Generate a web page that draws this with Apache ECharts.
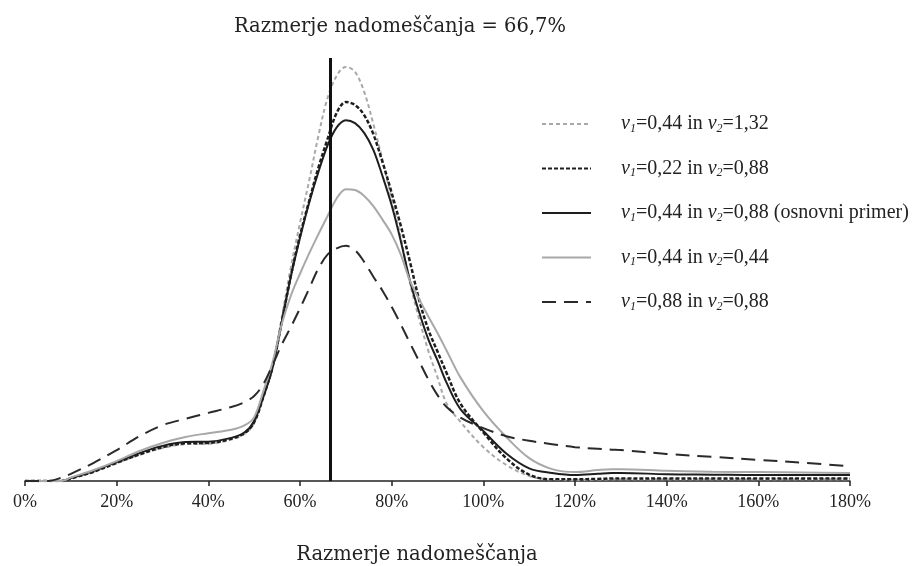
<!DOCTYPE html>
<html>
<head>
<meta charset="utf-8">
<script src="https://cdn.jsdelivr.net/npm/echarts@6/dist/echarts.min.js"></script>
<style>
  html, body { margin: 0; padding: 0; background: #fff; }
  #main { width: 915px; height: 566px; }
</style>
</head>
<body>
<div id="main"></div>
<script>
// x positions (razmerje nadomescanja, %)
var xs = [0, 5, 8, 10, 15, 20, 25, 30, 35, 40, 45, 48, 50, 52, 54, 56, 58, 60, 62, 64, 66, 68, 70, 72, 74, 76, 78, 80,
    82, 84, 86, 88, 90, 92, 95, 100, 105, 110, 115, 120, 125, 128, 130, 140, 150, 160, 170, 180];

// v1=0,44 in v2=1,32
var serA = [0, 0, 0, 0.6, 2.2, 4.2, 6.2, 7.8, 8.7, 8.8, 9.8, 11.2, 13.7, 19.9, 27.0, 38.5, 50.5, 61.0, 71.0, 81.5, 90.5, 95.8, 97.9, 96.7, 92.0, 84.4, 75.9, 66.7,
    57.4, 46.8, 38.3, 30.8, 24.5, 18.3, 14.0, 8.0, 3.8, 1.2, 0.3, 0.2, 0.3, 0.4, 0.4, 0.4, 0.4, 0.4, 0.4, 0.4];
// v1=0,22 in v2=0,88
var serB = [0, 0, 0, 0.6, 2.2, 4.3, 6.3, 8.0, 8.9, 9.0, 10.0, 11.4, 13.9, 19.9, 26.9, 37.5, 48.5, 58.0, 66.2, 74.0, 80.8, 87.0, 89.6, 88.9, 86.5, 82.0, 75.4, 68.1,
    60.3, 51.8, 42.8, 35.8, 30.6, 25.5, 18.3, 11.5, 5.4, 1.5, 0.4, 0.4, 0.5, 0.6, 0.6, 0.6, 0.6, 0.6, 0.6, 0.6];
// v1=0,44 in v2=0,88 (osnovni primer)
var serC = [0, 0, 0, 0.7, 2.4, 4.5, 6.6, 8.3, 9.2, 9.3, 10.2, 11.6, 14.2, 19.9, 26.7, 37.5, 48.3, 57.5, 65.8, 73.0, 79.3, 83.6, 85.3, 84.6, 82.3, 78.3, 72.1, 65.2,
    56.7, 47.3, 39.9, 33.5, 28.5, 23.2, 17.0, 11.8, 6.5, 3.0, 1.9, 1.4, 1.7, 1.9, 1.9, 1.6, 1.5, 1.4, 1.4, 1.4];
// v1=0,44 in v2=0,44
var serD = [0, 0, 0, 0.8, 2.6, 4.7, 7.1, 9.0, 10.4, 11.3, 12.1, 13.2, 15.1, 21.2, 28.0, 37.0, 43.8, 49.0, 53.8, 58.3, 62.6, 66.8, 69.0, 68.8, 67.4, 65.0, 61.8, 58.3,
    53.5, 47.3, 43.0, 38.9, 35.0, 30.8, 24.5, 16.5, 10.4, 5.4, 2.8, 2.1, 2.6, 2.8, 2.8, 2.4, 2.2, 2.1, 2.0, 1.9];
// v1=0,88 in v2=0,88
var serE = [0, 0, 0.8, 1.7, 4.3, 7.3, 10.6, 13.2, 14.7, 16.1, 17.5, 18.7, 20.1, 22.9, 27.4, 32.2, 36.4, 40.8, 45.5, 50.2, 53.5, 55.0, 55.6, 54.6, 51.8, 48.3, 45.0, 41.2,
    37.0, 32.6, 28.3, 24.0, 20.3, 17.5, 15.0, 12.5, 10.6, 9.5, 8.7, 8.0, 7.6, 7.4, 7.3, 6.4, 5.7, 5.0, 4.3, 3.5];

var names = ['v1=0,44 in v2=1,32', 'v1=0,22 in v2=0,88', 'v1=0,44 in v2=0,88 (osnovni primer)', 'v1=0,44 in v2=0,44', 'v1=0,88 in v2=0,88'];
var richNames = [
    '{i|v}{s|1}=0,44 in {i|v}{s|2}=1,32',
    '{i|v}{s|1}=0,22 in {i|v}{s|2}=0,88',
    '{i|v}{s|1}=0,44 in {i|v}{s|2}=0,88 (osnovni primer)',
    '{i|v}{s|1}=0,44 in {i|v}{s|2}=0,44',
    '{i|v}{s|1}=0,88 in {i|v}{s|2}=0,88'
];
var splitRatio = 66.7;

function pairs(ys) {
    var out = [];
    for (var i = 0; i < xs.length; i++) {
        out.push([xs[i], ys[i]]);
    }
    return out;
}

var serif = 'Liberation Serif';
var myChart = echarts.init(document.getElementById('main'));

var styles = [
    { color: '#a8a8a8', width: 2, type: [4, 3] },
    { color: '#1e1e1e', width: 2.5, type: [4, 2] },
    { color: '#1e1e1e', width: 2, type: 'solid' },
    { color: '#a8a8a8', width: 2, type: 'solid' },
    { color: '#2a2a2a', width: 2, type: [14, 8] }
];
var allData = [serA, serB, serC, serD, serE];

var series = [];
for (var k = 0; k < 5; k++) {
    series.push({
        name: names[k],
        type: 'line',
        data: pairs(allData[k]),
        smooth: 0.35,
        symbol: 'none',
        color: styles[k].color,
        lineStyle: styles[k]
    });
}
series[4].markLine = {
    silent: true,
    symbol: ['none', 'none'],
    label: { show: false },
    lineStyle: { color: '#111', width: 3, type: 'solid' },
    data: [{ xAxis: splitRatio }]
};

var option = {
    animation: false,
    backgroundColor: '#fff',
    title: [{
        text: 'Razmerje nadomeščanja = 66,7%',
        left: 395,
        top: 12,
        textAlign: 'center',
        textStyle: { fontFamily: 'DejaVu Serif', fontSize: 19.5, fontWeight: 'normal', color: '#222' }
    }, {
        text: 'Razmerje nadomeščanja',
        left: 412,
        top: 540,
        textAlign: 'center',
        textStyle: { fontFamily: 'DejaVu Serif', fontSize: 19.5, fontWeight: 'normal', color: '#222' }
    }],
    legend: {
        orient: 'vertical',
        left: 536,
        top: 109,
        itemWidth: 49,
        itemHeight: 14,
        itemGap: 24,
        data: names,
        itemStyle: { opacity: 0 },
        formatter: function (name) {
            return richNames[names.indexOf(name)];
        },
        textStyle: {
            fontFamily: serif,
            fontSize: 20,
            color: '#222',
            padding: [0, 0, 0, 25],
            rich: {
                i: { fontFamily: serif, fontSize: 20, fontStyle: 'italic', color: '#222' },
                s: { fontFamily: serif, fontSize: 12, fontStyle: 'italic', color: '#222', padding: [9, 0, 0, 0] }
            }
        }
    },
    grid: { left: 25, right: 65, top: 58, bottom: 85 },
    xAxis: {
        type: 'value',
        min: 0,
        max: 180,
        interval: 20,
        axisLine: { lineStyle: { color: '#222', width: 1.5 } },
        axisTick: { show: true, length: 5, lineStyle: { color: '#222', width: 1.5 } },
        splitLine: { show: false },
        axisLabel: {
            formatter: '{value}%',
            fontFamily: serif,
            fontSize: 18,
            color: '#222',
            margin: 12
        }
    },
    yAxis: {
        type: 'value',
        min: 0,
        max: 100,
        show: false
    },
    series: series
};
myChart.setOption(option);
</script>
</body>
</html>
